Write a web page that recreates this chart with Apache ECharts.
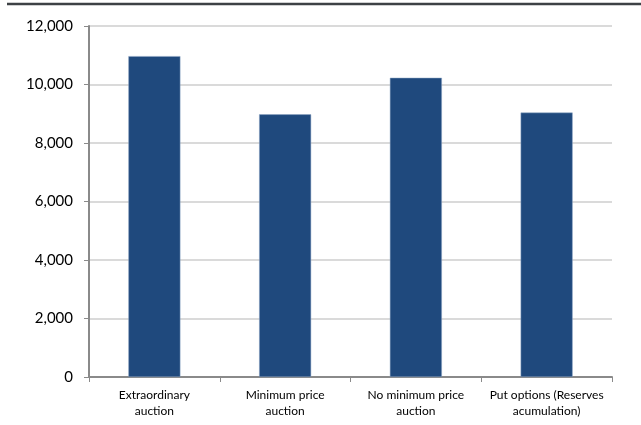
<!DOCTYPE html>
<html>
<head>
<meta charset="utf-8">
<script src="https://cdn.jsdelivr.net/npm/echarts@6/dist/echarts.min.js"></script>
<style>
    html, body { margin: 0; padding: 0; background: #fff; }
    #chart { width: 641px; height: 425px; }
</style>
</head>
<body>
<div id="chart"></div>
<script>
// data
var categories = ['Extraordinary\nauction', 'Minimum price\nauction', 'No minimum price\nauction', 'Put options (Reserves\nacumulation)'];
var values = [10970, 8980, 10230, 9040];
var yTicks = [0, 2000, 4000, 6000, 8000, 10000, 12000];

var chart = echarts.init(document.getElementById('chart'));
chart.setOption({
    animation: false,
    textStyle: { fontFamily: 'Lato' },
    graphic: [{
        type: 'line',
        shape: { x1: 7, y1: 4, x2: 641, y2: 4 },
        style: { stroke: '#3d4145', lineWidth: 2.5 }
    }],
    grid: { left: 89, right: 29, top: 26, bottom: 48 },
    xAxis: {
        type: 'category',
        data: categories,
        axisLine: { lineStyle: { color: '#8a8a8a', width: 2 } },
        axisTick: { show: true, interval: 0, length: 5, lineStyle: { color: '#8a8a8a', width: 1 } },
        axisLabel: { color: '#000', fontSize: 12, lineHeight: 16, margin: 10, interval: 0 }
    },
    yAxis: {
        type: 'value',
        min: yTicks[0],
        max: yTicks[yTicks.length - 1],
        interval: 2000,
        axisLine: { show: true, lineStyle: { color: '#8a8a8a', width: 2 } },
        axisTick: { show: true, length: 5, lineStyle: { color: '#8a8a8a', width: 1 } },
        splitLine: { lineStyle: { color: '#dadada', width: 2 } },
        axisLabel: {
            color: '#000',
            fontSize: 15,
            margin: 16,
            formatter: function(v){ return v.toLocaleString('en-US'); }
        }
    },
    series: [{
        type: 'bar',
        data: values,
        barWidth: 52,
        itemStyle: { color: '#1f497d', borderColor: '#8fa6c4', borderWidth: 0.5 }
    }]
});
</script>
</body>
</html>
